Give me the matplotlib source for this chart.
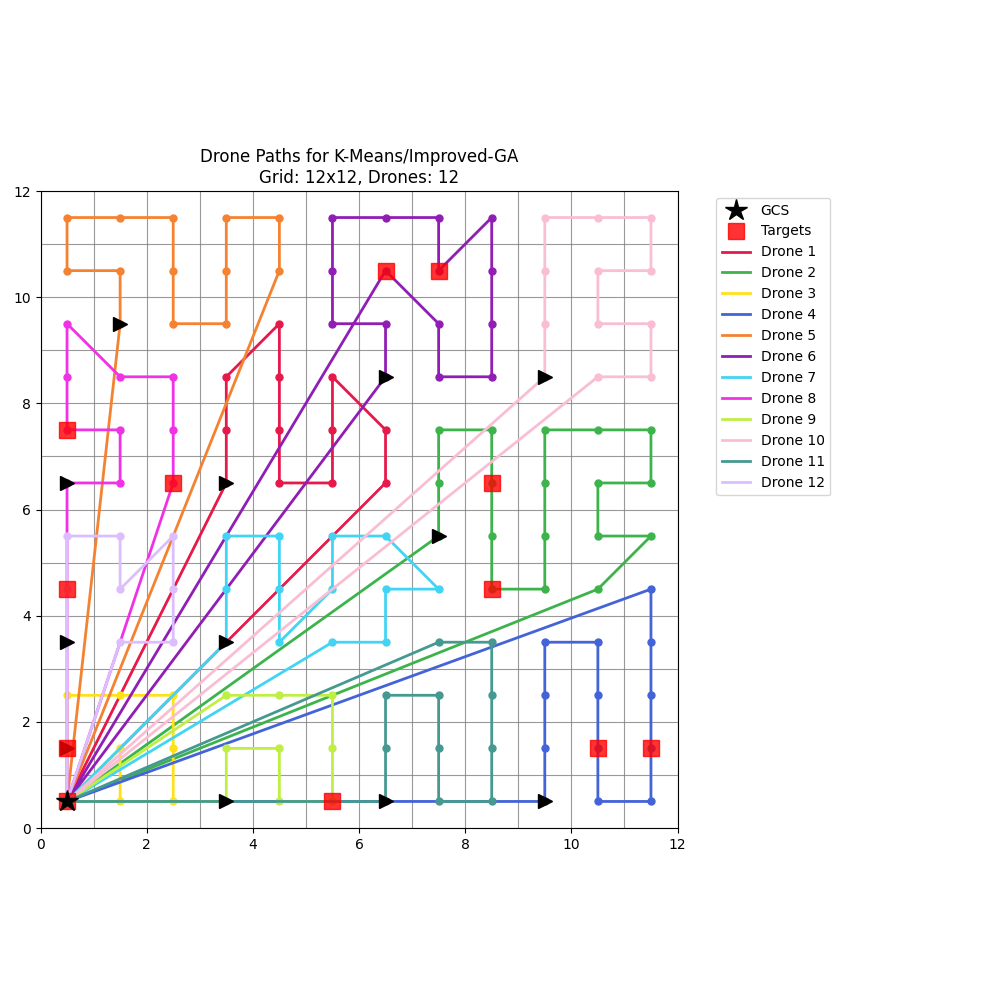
import numpy as np
import matplotlib
matplotlib.use("Agg")
import matplotlib.pyplot as plt

grid_size = 12
gcs = (0.5, 0.5)

# target cells (cell centres)
targets_x = [0.5, 0.5, 0.5, 0.5, 2.5, 6.5, 7.5, 8.5, 8.5, 5.5, 10.5, 11.5]
targets_y = [0.5, 1.5, 4.5, 7.5, 6.5, 10.5, 10.5, 6.5, 4.5, 0.5, 1.5, 1.5]

drone_names = ['Drone %d' % i for i in range(1, 13)]
colors = ['#e6194b', '#3cb44b', '#ffe119', '#4363d8', '#f58231', '#911eb4',
          '#42d4f4', '#f032e6', '#bfef45', '#fabed4', '#469990', '#dcbeff']

# waypoints of each drone (without the GCS at both ends)
path_1 = [(6.5, 6.5), (6.5, 7.5), (5.5, 8.5), (5.5, 7.5), (5.5, 6.5), (4.5, 6.5),
          (4.5, 7.5), (4.5, 8.5), (4.5, 9.5), (3.5, 8.5), (3.5, 7.5), (3.5, 6.5)]
path_2 = [(10.5, 4.5), (11.5, 5.5), (10.5, 5.5), (10.5, 6.5), (11.5, 6.5), (11.5, 7.5),
          (10.5, 7.5), (9.5, 7.5), (9.5, 6.5), (9.5, 5.5), (9.5, 4.5), (8.5, 4.5),
          (8.5, 5.5), (8.5, 6.5), (8.5, 7.5), (7.5, 7.5), (7.5, 6.5), (7.5, 5.5)]
path_3 = [(1.5, 1.5), (1.5, 0.5), (2.5, 0.5), (2.5, 1.5), (2.5, 2.5), (1.5, 2.5),
          (0.5, 2.5), (0.5, 1.5)]
path_4 = [(11.5, 4.5), (11.5, 3.5), (11.5, 2.5), (11.5, 1.5), (11.5, 0.5), (10.5, 0.5),
          (10.5, 1.5), (10.5, 2.5), (10.5, 3.5), (9.5, 3.5), (9.5, 2.5), (9.5, 1.5),
          (9.5, 0.5)]
path_5 = [(4.5, 10.5), (4.5, 11.5), (3.5, 11.5), (3.5, 10.5), (3.5, 9.5), (2.5, 9.5),
          (2.5, 10.5), (2.5, 11.5), (1.5, 11.5), (0.5, 11.5), (0.5, 10.5), (1.5, 10.5),
          (1.5, 9.5)]
path_6 = [(6.5, 10.5), (7.5, 9.5), (7.5, 8.5), (8.5, 8.5), (8.5, 9.5), (8.5, 10.5),
          (8.5, 11.5), (7.5, 10.5), (7.5, 11.5), (6.5, 11.5), (5.5, 11.5), (5.5, 10.5),
          (5.5, 9.5), (6.5, 9.5), (6.5, 8.5)]
path_7 = [(5.5, 3.5), (6.5, 3.5), (6.5, 4.5), (7.5, 4.5), (6.5, 5.5), (5.5, 5.5),
          (5.5, 4.5), (4.5, 3.5), (4.5, 4.5), (4.5, 5.5), (3.5, 5.5), (3.5, 4.5),
          (3.5, 3.5)]
path_8 = [(2.5, 6.5), (2.5, 7.5), (2.5, 8.5), (1.5, 8.5), (0.5, 9.5), (0.5, 8.5),
          (0.5, 7.5), (1.5, 7.5), (1.5, 6.5), (0.5, 6.5)]
path_9 = [(3.5, 2.5), (4.5, 2.5), (5.5, 2.5), (5.5, 1.5), (5.5, 0.5), (4.5, 0.5),
          (4.5, 1.5), (3.5, 1.5), (3.5, 0.5)]
path_10 = [(10.5, 8.5), (11.5, 8.5), (11.5, 9.5), (10.5, 9.5), (10.5, 10.5), (11.5, 10.5),
           (11.5, 11.5), (10.5, 11.5), (9.5, 11.5), (9.5, 10.5), (9.5, 9.5), (9.5, 8.5)]
path_11 = [(7.5, 3.5), (8.5, 3.5), (8.5, 2.5), (8.5, 1.5), (8.5, 0.5), (7.5, 0.5),
           (7.5, 1.5), (7.5, 2.5), (6.5, 2.5), (6.5, 1.5), (6.5, 0.5)]
path_12 = [(1.5, 3.5), (2.5, 3.5), (2.5, 4.5), (2.5, 5.5), (1.5, 4.5), (1.5, 5.5),
           (0.5, 5.5), (0.5, 4.5), (0.5, 3.5)]

paths = [path_1, path_2, path_3, path_4, path_5, path_6,
         path_7, path_8, path_9, path_10, path_11, path_12]

fig = plt.figure(figsize=(10, 10), dpi=100)
ax = fig.add_axes([0.04, 0.172, 0.638, 0.637])

ax.plot(gcs[0], gcs[1], '*', color='black', markersize=16, label='GCS', zorder=10)
ax.plot(targets_x, targets_y, 's', color='red', markersize=11, alpha=0.8,
        label='Targets', zorder=6)

for name, col, path in zip(drone_names, colors, paths):
    full = [gcs] + path + [gcs]
    xs = [p[0] for p in full]
    ys = [p[1] for p in full]
    ax.plot(xs, ys, '-', color=col, linewidth=2, label=name, zorder=3)
    ax.plot(xs[1:-1], ys[1:-1], 'o', color=col, markersize=5, zorder=3)
    ax.plot(path[-1][0], path[-1][1], '>', color='black', markersize=10, zorder=4)

ax.set_xlim(0, grid_size)
ax.set_ylim(0, grid_size)
ax.set_xticks(np.arange(0, grid_size + 1, 2))
ax.set_yticks(np.arange(0, grid_size + 1, 2))
ax.set_xticks(np.arange(0, grid_size + 1, 1), minor=True)
ax.set_yticks(np.arange(0, grid_size + 1, 1), minor=True)
ax.tick_params(which='minor', length=0)
ax.grid(True, which='both', color='gray', linewidth=0.8, alpha=0.8)
ax.set_axisbelow(True)
ax.set_aspect('equal')
ax.set_title('Drone Paths for K-Means/Improved-GA\nGrid: 12x12, Drones: 12', fontsize=12)
ax.legend(loc='upper left', bbox_to_anchor=(1.05, 1))

plt.savefig('out.png')
